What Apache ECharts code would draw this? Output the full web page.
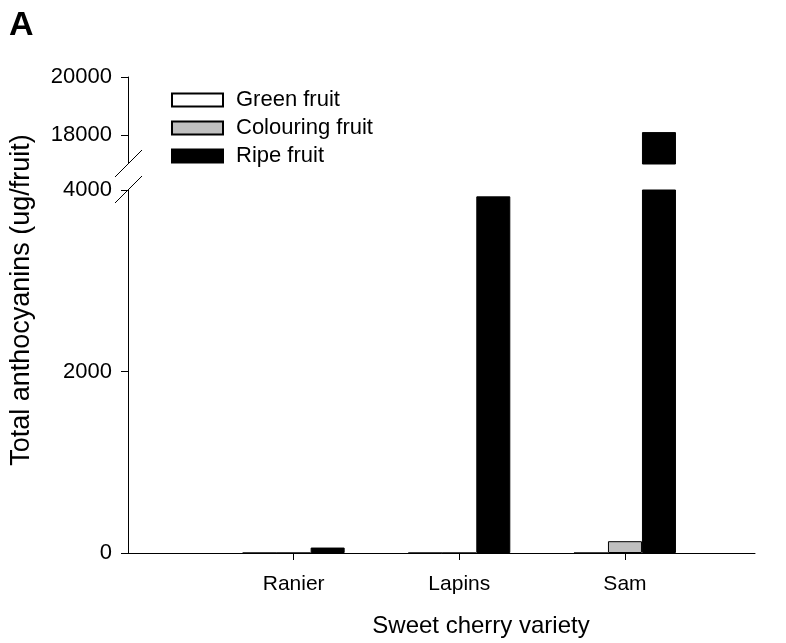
<!DOCTYPE html>
<html>
<head>
<meta charset="utf-8">
<script src="https://cdn.jsdelivr.net/npm/echarts@6/dist/echarts.min.js"></script>
<style>
  html, body { margin: 0; padding: 0; background: #fff; }
  #chart { width: 786px; height: 643px; }
</style>
</head>
<body>
<div id="chart"></div>
<script>
// Sweet cherry varieties, positioned at 1, 2, 3 on the horizontal axis
const varieties = ['Ranier', 'Lapins', 'Sam'];
const varietyPos = [1, 2, 3];

// Total anthocyanins (ug/fruit) per ripening stage
const greenFruit = [0, 0, 0];
const colouringFruit = [0, 0, 130];
const ripeFruit = [60, 3930, 18100];

// Tick labels of the two y-axis segments (broken axis)
const lowerTicks = [0, 2000, 4000];
const upperTicks = [18000, 20000];

const FONT = '"Liberation Sans", Arial, sans-serif';

const stages = [
  { name: 'Green fruit', data: greenFruit, color: '#ffffff' },
  { name: 'Colouring fruit', data: colouringFruit, color: '#c0c0c0' },
  { name: 'Ripe fruit', data: ripeFruit, color: '#000000' }
];

function pairs(values) {
  return values.map((v, i) => [varietyPos[i], v]);
}

const series = [];
[0, 1].forEach(gi => {
  stages.forEach(s => {
    series.push({
      name: s.name,
      type: 'bar',
      xAxisIndex: gi,
      yAxisIndex: gi,
      data: pairs(s.data),
      barWidth: 34,
      barGap: '0%',
      clip: true,
      itemStyle: { color: s.color, borderColor: '#000', borderWidth: 1 },
      emphasis: { disabled: true },
      silent: true
    });
  });
});

const chart = echarts.init(document.getElementById('chart'), null, { renderer: 'canvas' });

const xCommon = {
  type: 'value',
  min: 0,
  max: 3.785
};

const plainNumber = v => String(v);

chart.setOption({
  animation: false,
  backgroundColor: '#fff',
  grid: [
    { left: 128, right: 31, top: 190, bottom: 90 },   // lower segment 0–4000
    { left: 128, right: 31, top: 77, height: 87 }     // upper segment 17000–20000
  ],
  xAxis: [
    Object.assign({}, xCommon, {
      gridIndex: 0,
      axisLine: { show: true, onZero: false, lineStyle: { color: '#000', width: 1 } },
      axisTick: { show: true, customValues: varietyPos, length: 7, lineStyle: { color: '#000' } },
      axisLabel: {
        customValues: varietyPos,
        formatter: v => varieties[varietyPos.indexOf(Math.round(v))] || '',
        color: '#000', fontFamily: FONT, fontSize: 21, margin: 21
      },
      splitLine: { show: false }
    }),
    Object.assign({}, xCommon, {
      gridIndex: 1,
      show: false
    })
  ],
  yAxis: [
    {
      type: 'value', gridIndex: 0, min: 0, max: 4000,
      axisLine: { show: true, lineStyle: { color: '#000', width: 1 } },
      axisTick: { show: true, customValues: lowerTicks, length: 7, lineStyle: { color: '#000' } },
      axisLabel: { customValues: lowerTicks, formatter: plainNumber, color: '#000', fontFamily: FONT, fontSize: 22, margin: 16 },
      splitLine: { show: false }
    },
    {
      type: 'value', gridIndex: 1, min: 17000, max: 20000,
      axisLine: { show: true, lineStyle: { color: '#000', width: 1 } },
      axisTick: { show: true, customValues: upperTicks, length: 7, lineStyle: { color: '#000' } },
      axisLabel: { customValues: upperTicks, formatter: plainNumber, color: '#000', fontFamily: FONT, fontSize: 22, margin: 16 },
      splitLine: { show: false }
    }
  ],
  legend: {
    data: stages.map(s => s.name),
    orient: 'vertical',
    left: 171,
    top: 89,
    padding: 0,
    icon: 'rect',
    itemWidth: 51,
    itemHeight: 13,
    itemGap: 6,
    textStyle: { color: '#000', fontFamily: FONT, fontSize: 22, padding: [0, 0, 0, 8] },
    selectedMode: false
  },
  series: series
});

// Axis titles, panel letter and break marks on the y axis
const xAxisLeft = chart.convertToPixel({ xAxisIndex: 0 }, 0);
const upperBottom = chart.convertToPixel({ yAxisIndex: 1 }, 17000);
const lowerTop = chart.convertToPixel({ yAxisIndex: 0 }, 4000);

function slash(yc) {
  return {
    type: 'line',
    shape: { x1: xAxisLeft - 13, y1: yc + 13, x2: xAxisLeft + 14, y2: yc - 14 },
    style: { stroke: '#000', lineWidth: 1 },
    silent: true
  };
}

chart.setOption({
  graphic: [
    { type: 'rect', shape: { x: xAxisLeft - 4, y: upperBottom, width: 8, height: lowerTop - upperBottom }, style: { fill: '#fff' }, silent: true, z: 100 },
    Object.assign(slash(upperBottom), { z: 101 }),
    Object.assign(slash(lowerTop), { z: 101 }),
    {
      type: 'text', left: 9, top: 9,
      style: { text: 'A', font: 'bold 34px ' + FONT, fill: '#000' }
    },
    {
      type: 'text', x: 481, y: 626,
      style: { text: 'Sweet cherry variety', font: '24px ' + FONT, fill: '#000', textAlign: 'center', textVerticalAlign: 'middle' }
    },
    {
      type: 'text', x: 22, y: 300, rotation: Math.PI / 2,
      style: { text: 'Total anthocyanins (ug/fruit)', font: '27px ' + FONT, fill: '#000', textAlign: 'center', textVerticalAlign: 'middle' }
    }
  ]
});
</script>
</body>
</html>
